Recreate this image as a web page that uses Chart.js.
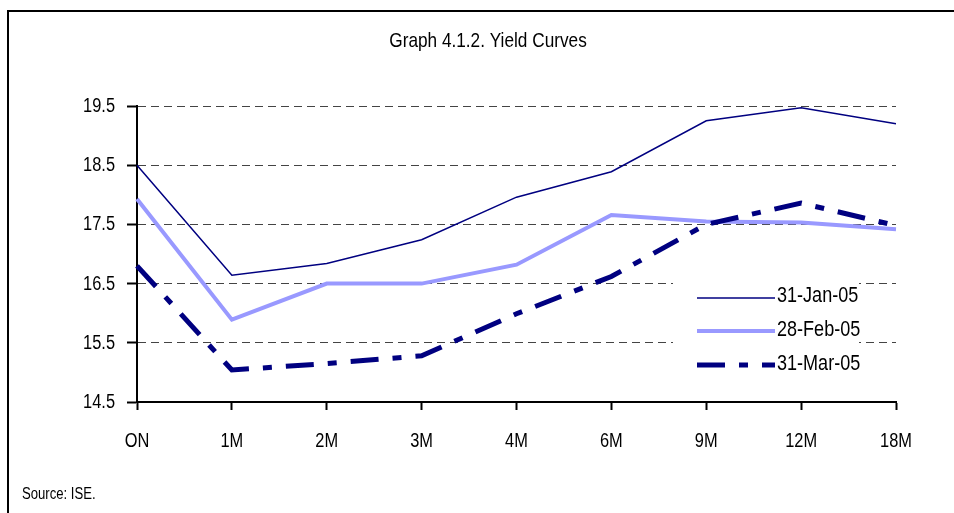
<!DOCTYPE html>
<html>
<head>
<meta charset="utf-8">
<script src="https://cdn.jsdelivr.net/npm/chart.js@4/dist/chart.umd.min.js"></script>
<style>
  html, body { margin: 0; padding: 0; background: #fff; }
  #wrap { position: relative; width: 954px; height: 513px; }
</style>
</head>
<body>
<div id="wrap"><canvas id="c" width="954" height="513"></canvas></div>
<script>
// Maturities along the curve
const categories = ['ON', '1M', '2M', '3M', '4M', '6M', '9M', '12M', '18M'];
// Yields (%) on each date
const jan05 = [18.50, 16.64, 16.84, 17.24, 17.96, 18.39, 19.25, 19.47, 19.20];
const feb05 = [17.93, 15.89, 16.50, 16.50, 16.82, 17.66, 17.55, 17.53, 17.42];
const mar05 = [16.80, 15.04, 15.15, 15.28, 15.99, 16.62, 17.50, 17.86, 17.48];
const seriesNames = ['31-Jan-05', '28-Feb-05', '31-Mar-05'];
// Value axis ticks
const yTicks = [14.5, 15.5, 16.5, 17.5, 18.5, 19.5];

const FONT = "'Liberation Sans', Arial, sans-serif";
const NARROW = 0.82; // horizontal squeeze giving a narrow Arial look
const NAVY = '#000080';
const LILAC = '#9999FF';
const MAR_DASH = [28, 14, 9, 14];

const styles = [
  { color: NAVY, width: 1.5, dash: [], order: 0 },
  { color: LILAC, width: 4, dash: [], order: 2 },
  { color: NAVY, width: 5, dash: MAR_DASH, order: 1 }
];

// narrow text helper
function narrowText(ctx, text, x, y, size, align) {
  ctx.save();
  ctx.translate(x, y);
  ctx.scale(NARROW, 1);
  ctx.font = size + 'px ' + FONT;
  ctx.fillStyle = '#000';
  ctx.textAlign = align;
  ctx.textBaseline = 'alphabetic';
  ctx.fillText(text, 0, 0);
  ctx.restore();
}

const decorations = {
  id: 'decorations',
  afterDatasetsDraw(chart) {
    const ctx = chart.ctx;
    ctx.save();
    // legend box over the grid
    ctx.fillStyle = '#fff';
    ctx.fillRect(673, 272, 186, 108);
    const rows = [298, 331, 365];
    const baselines = [302, 336, 370];
    seriesNames.forEach((name, i) => {
      const s = styles[i];
      ctx.beginPath();
      ctx.lineWidth = s.width;
      ctx.strokeStyle = s.color;
      ctx.setLineDash(s.dash);
      ctx.lineCap = 'butt';
      ctx.moveTo(697, rows[i]);
      ctx.lineTo(775, rows[i]);
      ctx.stroke();
      ctx.setLineDash([]);
      narrowText(ctx, name, 777, baselines[i], 22, 'left');
    });
    ctx.restore();
  },
  afterDraw(chart) {
    const ctx = chart.ctx;
    const xs = chart.scales.x, ys = chart.scales.y;
    // category labels
    xs.ticks.forEach((t, i) => {
      narrowText(ctx, categories[i], xs.getPixelForTick(i), 447, 20, 'center');
    });
    // value labels
    ys.ticks.forEach((t) => {
      narrowText(ctx, t.value.toFixed(1), 115, ys.getPixelForValue(t.value) + 6, 20, 'right');
    });
    narrowText(ctx, 'Graph 4.1.2. Yield Curves', 488, 47, 21, 'center');
    narrowText(ctx, 'Source: ISE.', 22, 499, 16, 'left');
    // frame
    ctx.save();
    ctx.strokeStyle = '#000';
    ctx.lineWidth = 2;
    ctx.beginPath();
    ctx.moveTo(954, 11);
    ctx.lineTo(8, 11);
    ctx.lineTo(8, 513);
    ctx.stroke();
    ctx.restore();
  }
};

new Chart(document.getElementById('c'), {
  type: 'line',
  data: {
    labels: categories,
    datasets: [jan05, feb05, mar05].map((d, i) => ({
      label: seriesNames[i],
      data: d,
      order: styles[i].order,
      borderColor: styles[i].color,
      backgroundColor: styles[i].color,
      borderWidth: styles[i].width,
      borderDash: styles[i].dash,
      borderCapStyle: 'butt',
      pointRadius: 0,
      tension: 0,
      fill: false
    }))
  },
  options: {
    responsive: false,
    animation: false,
    devicePixelRatio: 1,
    layout: { padding: { left: 0, top: 106, right: 58, bottom: 0 } },
    plugins: { legend: { display: false }, title: { display: false }, tooltip: { enabled: false } },
    scales: {
      x: {
        offset: false,
        afterFit(scale) { scale.height = 111; },
        grid: { drawOnChartArea: false, drawTicks: true, tickLength: 8, tickColor: '#000', tickWidth: 2 },
        border: { display: true, color: '#000', width: 2 },
        ticks: { display: false, autoSkip: false }
      },
      y: {
        min: 14.5,
        max: 19.5,
        afterFit(scale) { scale.width = 137; },
        afterBuildTicks(scale) { scale.ticks = yTicks.map(v => ({ value: v })); },
        grid: {
          color: (c) => c.tick && c.tick.value === 14.5 ? 'rgba(0,0,0,0)' : '#444',
          lineWidth: 1,
          drawTicks: true,
          tickLength: 10,
          tickColor: '#000',
          tickWidth: 2
        },
        border: { display: true, color: '#000', width: 2, dash: [8, 5] },
        ticks: { display: false }
      }
    }
  },
  plugins: [decorations]
});
</script>
</body>
</html>
